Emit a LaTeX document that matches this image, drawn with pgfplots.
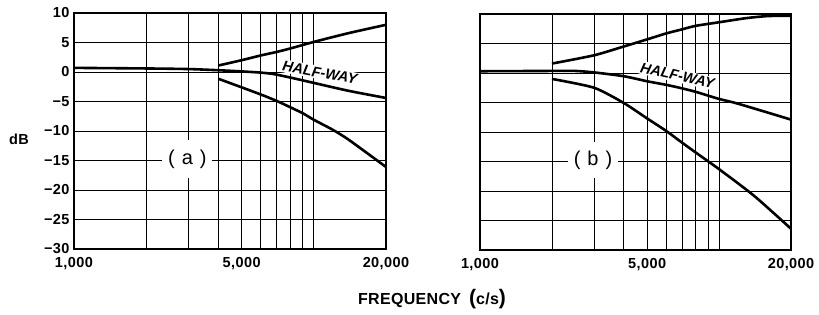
\documentclass[border=0pt]{standalone}
\usepackage{pgfplots}
\pgfplotsset{compat=1.18}
\usepackage{fontspec}
\setmainfont{Liberation Sans}
\newfontfamily\lett[LetterSpace=3]{Liberation Sans}
\newfontfamily\xl[LetterSpace=2]{Liberation Sans}
\newfontfamily\hw{Liberation Sans}
\newfontfamily\lab{Liberation Sans}

\pgfplotsset{
  mypanel/.style={
    scale only axis, height=236pt,
    xmin=1000, xmax=20000, ymin=-30, ymax=10,
    xtick={1000,2000,3000,4000,5000,6000,7000,8000,9000,10000,20000},
    xticklabels={{1,000},{},{},{},{5,000},{},{},{},{},{},{20,000}},
    ytick={-30,-25,-20,-15,-10,-5,0,5,10},
    grid=major, major grid style={black, line width=0.9pt},
    major tick length=0pt,
    axis line style={line width=1.4pt},
    xticklabel style={font=\lett\bfseries\fontsize{14.5}{16}\selectfont, yshift=-5pt},
    yticklabel style={font=\lett\bfseries\fontsize{14.5}{16}\selectfont, xshift=-1pt},
  },
}
\tikzset{mycurve/.style={black, line width=2.6pt, smooth, tension=0.4}}

\begin{document}
\begin{tikzpicture}
\useasboundingbox (0,0) rectangle (819pt,314pt);

% ---------- panel (a)
\begin{axis}[xmode=log, mypanel, width=312pt, at={(74pt,65pt)}, anchor=south west,
  yticklabels={{\textminus30},{\textminus25},{\textminus20},{\textminus15},{\textminus10},{\textminus5},{0},{5},{10}}]
\node[fill=white, minimum width=50pt, minimum height=38pt, inner sep=0pt,
  font=\lab\fontsize{20}{22}\selectfont] at (axis cs:2970,-14.8) {(\hspace{0.35em}a\hspace{0.35em})};
\node[fill=white, rotate=-10.5, inner sep=1.5pt,
  font=\hw\bfseries\itshape\fontsize{14.5}{16}\selectfont] at (axis cs:10600,-0.1) {HALF-WAY};
\addplot[mycurve, mark=none] coordinates {(1000,0.7)(2000,0.6)(3000,0.5)(4000,0.3)(5000,0.1)(6000,-0.1)(6800,-0.35)(8000,-0.95)(10000,-1.85)(14000,-3.2)(20000,-4.4)};
\addplot[mycurve, mark=none] coordinates {(4000,1.1)(5000,2.0)(6000,2.8)(7000,3.4)(8000,4.0)(10000,5.1)(14000,6.6)(20000,8.0)};
\addplot[mycurve, mark=none] coordinates {(4000,-1.15)(5000,-2.6)(6000,-3.8)(7000,-4.9)(8000,-6.0)(9000,-7.0)(10000,-8.1)(12000,-9.8)(14000,-11.5)(20000,-16.1)};
\end{axis}

% ---------- panel (b)
\begin{axis}[xmode=log, mypanel, width=311pt, at={(480pt,64pt)}, anchor=south west,
  yticklabels={}]
\node[fill=white, minimum width=50pt, minimum height=36pt, inner sep=0pt,
  font=\lab\fontsize{20}{22}\selectfont] at (axis cs:2970,-14.8) {(\hspace{0.35em}b\hspace{0.35em})};
\node[fill=white, rotate=-13, inner sep=1.5pt,
  font=\hw\bfseries\itshape\fontsize{14.5}{16}\selectfont] at (axis cs:6700,-0.45) {HALF-WAY};
\addplot[mycurve, mark=none] coordinates {(1000,0.3)(2000,0.35)(2500,0.35)(3000,0.1)(4000,-0.55)(5000,-1.4)(6000,-2.0)(7000,-2.6)(8000,-3.2)(10000,-4.4)(12000,-5.2)(20000,-7.9)};
\addplot[mycurve, mark=none] coordinates {(2000,1.6)(3000,3.0)(4000,4.5)(5000,5.7)(6000,6.7)(7000,7.4)(8000,8.0)(10000,8.6)(13000,9.3)(16000,9.65)(20000,9.7)};
\addplot[mycurve, mark=none] coordinates {(2000,-1.0)(3000,-2.5)(4000,-5.1)(5000,-7.7)(6000,-9.8)(7000,-11.8)(8000,-13.5)(10000,-16.3)(14000,-20.8)(20000,-26.4)};
\end{axis}

\node[font=\lett\bfseries\fontsize{14.5}{16}\selectfont] at (19pt,175pt) {dB};
\node[font=\xl\bfseries\fontsize{16}{18}\selectfont] at (432pt,15pt)
  {FREQUENCY\hspace{0.5em}{\fontsize{21}{21}\selectfont(}c/s{\fontsize{21}{21}\selectfont)}};
\end{tikzpicture}
\end{document}
